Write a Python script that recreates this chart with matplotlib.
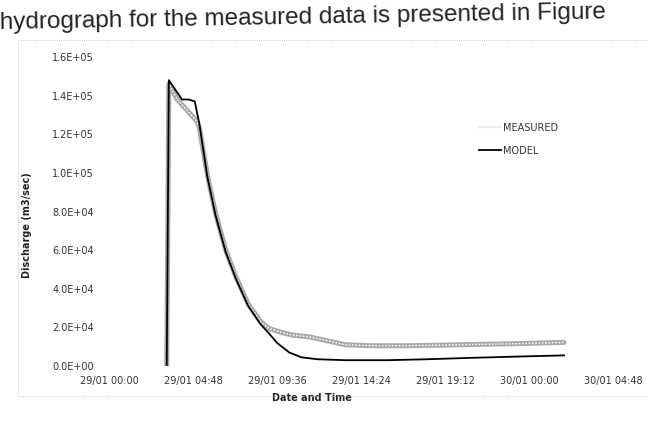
import matplotlib
matplotlib.use("Agg")
import matplotlib.pyplot as plt
from matplotlib.lines import Line2D
from matplotlib.patches import Rectangle
from matplotlib.ticker import FuncFormatter

# ---- data (hours after 29/01 00:00) ----
model_hours = [3.30, 3.42, 4.17, 4.55, 4.90, 5.15, 5.62, 6.09, 6.67, 7.26, 7.96,
               8.67, 9.13, 9.60, 10.3, 11.0, 11.9, 13.5, 15.9, 18.2, 20.6, 23.0, 26.0]
model_q = [0, 1.48e5, 1.38e5, 1.38e5, 1.37e5, 1.26e5, 9.8e4, 7.8e4, 5.9e4, 4.5e4, 3.1e4,
           2.15e4, 1.7e4, 1.2e4, 7.0e3, 4.5e3, 3.5e3, 3.0e3, 3.0e3, 3.5e3, 4.2e3, 4.8e3, 5.5e3]

meas_hours = [3.30, 3.42, 3.90, 4.50, 5.00, 5.15, 5.62, 6.09, 6.67, 7.26, 7.96, 8.67,
              9.13, 9.80, 10.5, 11.5, 12.5, 13.5, 15.0, 17.0, 19.0, 21.0, 23.0, 25.0, 26.0]
meas_q = [0, 1.46e5, 1.38e5, 1.32e5, 1.27e5, 1.24e5, 9.9e4, 7.9e4, 6.0e4, 4.6e4, 3.2e4, 2.3e4,
          1.95e4, 1.75e4, 1.6e4, 1.5e4, 1.3e4, 1.1e4, 1.05e4, 1.05e4, 1.08e4, 1.12e4, 1.15e4, 1.2e4, 1.22e4]

x_ticks = [0, 4.8, 9.6, 14.4, 19.2, 24.0, 28.8]
x_labels = ["29/01 00:00", "29/01 04:48", "29/01 09:36", "29/01 14:24",
            "29/01 19:12", "30/01 00:00", "30/01 04:48"]
y_ticks = [0, 2e4, 4e4, 6e4, 8e4, 1.0e5, 1.2e5, 1.4e5, 1.6e5]

W, H = 648, 421
fig = plt.figure(figsize=(W / 100, H / 100), dpi=100)
fig.patch.set_facecolor("white")

# scanned page text above the chart
fig.text(0.0, 1 - 12 / H, "hydrograph for the measured data is presented in Figure",
         fontsize=17.5, va="top", ha="left", color="#222222", rotation=1.0,
         rotation_mode="anchor", family="Liberation Sans")

# faint chart frame
fig.add_artist(Rectangle((18 / W, 1 - 396 / H), 640 / W, (396 - 40) / H,
                         transform=fig.transFigure, fill=False, ec="#bbbbbb",
                         lw=0.6, ls=(0, (1, 1.5))))

left, right, top, bottom = 109, 613, 57, 366
ax = fig.add_axes([left / W, 1 - bottom / H, (right - left) / W, (bottom - top) / H])
ax.plot(meas_hours, meas_q, color="#a8a8a8", lw=3.6, solid_capstyle="round", zorder=2)
ax.plot(meas_hours, meas_q, color="white", lw=1.0, ls=(0, (1.2, 1.2)), zorder=3)
ax.plot(model_hours, model_q, color="black", lw=1.3, zorder=4)

ax.set_xlim(0, 28.8)
ax.set_ylim(0, 1.6e5)
ax.set_xticks(x_ticks)
ax.set_xticklabels(x_labels)
ax.set_yticks(y_ticks)
ax.yaxis.set_major_formatter(FuncFormatter(lambda v, p: f"{v:.1E}"))
for s in ax.spines.values():
    s.set_visible(False)
ax.tick_params(axis="both", length=0, labelsize=7, colors="#333333")
ax.tick_params(axis="x", pad=7)
ax.tick_params(axis="y", pad=11)

ax.set_xlabel("Date and Time", fontsize=7, fontweight="bold", color="#222222")
ax.set_ylabel("Discharge (m3/sec)", fontsize=7, fontweight="bold", color="#222222")
ax.xaxis.set_label_coords((312 - left) / (right - left), -(393 - bottom) / (bottom - top))
ax.yaxis.set_label_coords((32 - left) / (right - left), (bottom - 225) / (bottom - top))

handles = [Line2D([0], [0], color="#eeeeee", lw=1.5),
           Line2D([0], [0], color="black", lw=1.3)]
leg = ax.legend(handles, ["MEASURED", "MODEL"], loc="upper left",
                bbox_to_anchor=((474 - left) / (right - left), (bottom - 118) / (bottom - top)),
                frameon=False, fontsize=7, handlelength=2.3, handletextpad=0.2,
                labelspacing=1.3, borderpad=0)
for t in leg.get_texts():
    t.set_color("#333333")

fig.savefig("out.png", dpi=100)
